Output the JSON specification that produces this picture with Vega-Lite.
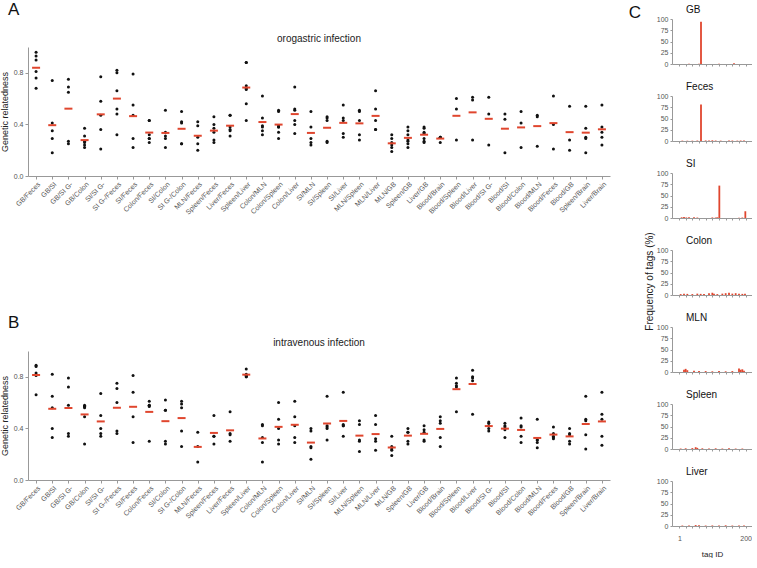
{
"$schema": "https://vega.github.io/schema/vega-lite/v6.json",
"padding": 0,
"background": "white",
"config": {
  "font": "Liberation Sans",
  "view": {"stroke": null},
  "axis": {"grid": false, "domainColor": "#999", "tickColor": "#999", "labelColor": "#555", "labelFontSize": 7, "titleFontWeight": "normal", "titleColor": "#222", "tickSize": 3, "labelPadding": 2},
  "title": {"fontWeight": "normal", "color": "#111"}
},
"datasets": {
"rel": [
{"route":"oro","pair":"GB/Feces","value":0.96},{"route":"oro","pair":"GB/Feces","value":0.93},{"route":"oro","pair":"GB/Feces","value":0.90},{"route":"oro","pair":"GB/Feces","value":0.81},{"route":"oro","pair":"GB/Feces","value":0.76},{"route":"oro","pair":"GB/Feces","value":0.68},
{"route":"oro","pair":"GB/SI","value":0.74},{"route":"oro","pair":"GB/SI","value":0.41},{"route":"oro","pair":"GB/SI","value":0.35},{"route":"oro","pair":"GB/SI","value":0.29},{"route":"oro","pair":"GB/SI","value":0.18},
{"route":"oro","pair":"GB/SI G-","value":0.75},{"route":"oro","pair":"GB/SI G-","value":0.69},{"route":"oro","pair":"GB/SI G-","value":0.65},{"route":"oro","pair":"GB/SI G-","value":0.27},{"route":"oro","pair":"GB/SI G-","value":0.25},
{"route":"oro","pair":"GB/Colon","value":0.37},{"route":"oro","pair":"GB/Colon","value":0.31},{"route":"oro","pair":"GB/Colon","value":0.27},{"route":"oro","pair":"GB/Colon","value":0.26},{"route":"oro","pair":"GB/Colon","value":0.24},{"route":"oro","pair":"GB/Colon","value":0.22},
{"route":"oro","pair":"SI/SI G-","value":0.77},{"route":"oro","pair":"SI/SI G-","value":0.58},{"route":"oro","pair":"SI/SI G-","value":0.47},{"route":"oro","pair":"SI/SI G-","value":0.36},{"route":"oro","pair":"SI/SI G-","value":0.21},
{"route":"oro","pair":"SI G-/Feces","value":0.82},{"route":"oro","pair":"SI G-/Feces","value":0.80},{"route":"oro","pair":"SI G-/Feces","value":0.66},{"route":"oro","pair":"SI G-/Feces","value":0.52},{"route":"oro","pair":"SI G-/Feces","value":0.48},{"route":"oro","pair":"SI G-/Feces","value":0.32},
{"route":"oro","pair":"SI/Feces","value":0.79},{"route":"oro","pair":"SI/Feces","value":0.55},{"route":"oro","pair":"SI/Feces","value":0.47},{"route":"oro","pair":"SI/Feces","value":0.29},{"route":"oro","pair":"SI/Feces","value":0.22},
{"route":"oro","pair":"Colon/Feces","value":0.43},{"route":"oro","pair":"Colon/Feces","value":0.43},{"route":"oro","pair":"Colon/Feces","value":0.32},{"route":"oro","pair":"Colon/Feces","value":0.29},{"route":"oro","pair":"Colon/Feces","value":0.29},{"route":"oro","pair":"Colon/Feces","value":0.26},
{"route":"oro","pair":"SI/Colon","value":0.51},{"route":"oro","pair":"SI/Colon","value":0.34},{"route":"oro","pair":"SI/Colon","value":0.31},{"route":"oro","pair":"SI/Colon","value":0.29},{"route":"oro","pair":"SI/Colon","value":0.22},
{"route":"oro","pair":"SI G-/Colon","value":0.50},{"route":"oro","pair":"SI G-/Colon","value":0.42},{"route":"oro","pair":"SI G-/Colon","value":0.41},{"route":"oro","pair":"SI G-/Colon","value":0.25},{"route":"oro","pair":"SI G-/Colon","value":0.25},
{"route":"oro","pair":"MLN/Feces","value":0.42},{"route":"oro","pair":"MLN/Feces","value":0.39},{"route":"oro","pair":"MLN/Feces","value":0.30},{"route":"oro","pair":"MLN/Feces","value":0.25},{"route":"oro","pair":"MLN/Feces","value":0.20},
{"route":"oro","pair":"Spleen/Feces","value":0.46},{"route":"oro","pair":"Spleen/Feces","value":0.40},{"route":"oro","pair":"Spleen/Feces","value":0.37},{"route":"oro","pair":"Spleen/Feces","value":0.34},{"route":"oro","pair":"Spleen/Feces","value":0.28},{"route":"oro","pair":"Spleen/Feces","value":0.26},
{"route":"oro","pair":"Liver/Feces","value":0.47},{"route":"oro","pair":"Liver/Feces","value":0.47},{"route":"oro","pair":"Liver/Feces","value":0.38},{"route":"oro","pair":"Liver/Feces","value":0.36},{"route":"oro","pair":"Liver/Feces","value":0.35},{"route":"oro","pair":"Liver/Feces","value":0.31},
{"route":"oro","pair":"Spleen/Liver","value":0.88},{"route":"oro","pair":"Spleen/Liver","value":0.88},{"route":"oro","pair":"Spleen/Liver","value":0.70},{"route":"oro","pair":"Spleen/Liver","value":0.68},{"route":"oro","pair":"Spleen/Liver","value":0.67},{"route":"oro","pair":"Spleen/Liver","value":0.56},{"route":"oro","pair":"Spleen/Liver","value":0.43},
{"route":"oro","pair":"Colon/MLN","value":0.62},{"route":"oro","pair":"Colon/MLN","value":0.45},{"route":"oro","pair":"Colon/MLN","value":0.39},{"route":"oro","pair":"Colon/MLN","value":0.38},{"route":"oro","pair":"Colon/MLN","value":0.35},{"route":"oro","pair":"Colon/MLN","value":0.32},
{"route":"oro","pair":"Colon/Spleen","value":0.51},{"route":"oro","pair":"Colon/Spleen","value":0.50},{"route":"oro","pair":"Colon/Spleen","value":0.39},{"route":"oro","pair":"Colon/Spleen","value":0.38},{"route":"oro","pair":"Colon/Spleen","value":0.38},{"route":"oro","pair":"Colon/Spleen","value":0.34},{"route":"oro","pair":"Colon/Spleen","value":0.29},
{"route":"oro","pair":"Colon/Liver","value":0.69},{"route":"oro","pair":"Colon/Liver","value":0.52},{"route":"oro","pair":"Colon/Liver","value":0.51},{"route":"oro","pair":"Colon/Liver","value":0.43},{"route":"oro","pair":"Colon/Liver","value":0.40},{"route":"oro","pair":"Colon/Liver","value":0.33},
{"route":"oro","pair":"SI/MLN","value":0.50},{"route":"oro","pair":"SI/MLN","value":0.38},{"route":"oro","pair":"SI/MLN","value":0.29},{"route":"oro","pair":"SI/MLN","value":0.26},{"route":"oro","pair":"SI/MLN","value":0.24},
{"route":"oro","pair":"SI/Spleen","value":0.46},{"route":"oro","pair":"SI/Spleen","value":0.45},{"route":"oro","pair":"SI/Spleen","value":0.43},{"route":"oro","pair":"SI/Spleen","value":0.27},{"route":"oro","pair":"SI/Spleen","value":0.26},
{"route":"oro","pair":"SI/Liver","value":0.55},{"route":"oro","pair":"SI/Liver","value":0.45},{"route":"oro","pair":"SI/Liver","value":0.43},{"route":"oro","pair":"SI/Liver","value":0.33},{"route":"oro","pair":"SI/Liver","value":0.30},
{"route":"oro","pair":"MLN/Spleen","value":0.51},{"route":"oro","pair":"MLN/Spleen","value":0.50},{"route":"oro","pair":"MLN/Spleen","value":0.43},{"route":"oro","pair":"MLN/Spleen","value":0.32},{"route":"oro","pair":"MLN/Spleen","value":0.28},
{"route":"oro","pair":"MLN/Liver","value":0.66},{"route":"oro","pair":"MLN/Liver","value":0.52},{"route":"oro","pair":"MLN/Liver","value":0.43},{"route":"oro","pair":"MLN/Liver","value":0.36},{"route":"oro","pair":"MLN/Liver","value":0.36},
{"route":"oro","pair":"MLN/GB","value":0.32},{"route":"oro","pair":"MLN/GB","value":0.29},{"route":"oro","pair":"MLN/GB","value":0.26},{"route":"oro","pair":"MLN/GB","value":0.24},{"route":"oro","pair":"MLN/GB","value":0.22},{"route":"oro","pair":"MLN/GB","value":0.19},
{"route":"oro","pair":"Spleen/GB","value":0.38},{"route":"oro","pair":"Spleen/GB","value":0.35},{"route":"oro","pair":"Spleen/GB","value":0.32},{"route":"oro","pair":"Spleen/GB","value":0.28},{"route":"oro","pair":"Spleen/GB","value":0.27},{"route":"oro","pair":"Spleen/GB","value":0.25},{"route":"oro","pair":"Spleen/GB","value":0.22},
{"route":"oro","pair":"Liver/GB","value":0.38},{"route":"oro","pair":"Liver/GB","value":0.37},{"route":"oro","pair":"Liver/GB","value":0.34},{"route":"oro","pair":"Liver/GB","value":0.33},{"route":"oro","pair":"Liver/GB","value":0.29},{"route":"oro","pair":"Liver/GB","value":0.27},{"route":"oro","pair":"Liver/GB","value":0.26},
{"route":"oro","pair":"Blood/Brain","value":0.30},{"route":"oro","pair":"Blood/Brain","value":0.30},{"route":"oro","pair":"Blood/Brain","value":0.30},{"route":"oro","pair":"Blood/Brain","value":0.26},
{"route":"oro","pair":"Blood/Spleen","value":0.60},{"route":"oro","pair":"Blood/Spleen","value":0.52},{"route":"oro","pair":"Blood/Spleen","value":0.28},
{"route":"oro","pair":"Blood/Liver","value":0.61},{"route":"oro","pair":"Blood/Liver","value":0.59},{"route":"oro","pair":"Blood/Liver","value":0.28},
{"route":"oro","pair":"Blood/SI G-","value":0.61},{"route":"oro","pair":"Blood/SI G-","value":0.48},{"route":"oro","pair":"Blood/SI G-","value":0.24},
{"route":"oro","pair":"Blood/SI","value":0.48},{"route":"oro","pair":"Blood/SI","value":0.44},{"route":"oro","pair":"Blood/SI","value":0.18},
{"route":"oro","pair":"Blood/Colon","value":0.50},{"route":"oro","pair":"Blood/Colon","value":0.41},{"route":"oro","pair":"Blood/Colon","value":0.22},
{"route":"oro","pair":"Blood/MLN","value":0.47},{"route":"oro","pair":"Blood/MLN","value":0.46},{"route":"oro","pair":"Blood/MLN","value":0.23},
{"route":"oro","pair":"Blood/Feces","value":0.62},{"route":"oro","pair":"Blood/Feces","value":0.40},{"route":"oro","pair":"Blood/Feces","value":0.21},
{"route":"oro","pair":"Blood/GB","value":0.54},{"route":"oro","pair":"Blood/GB","value":0.28},{"route":"oro","pair":"Blood/GB","value":0.20},
{"route":"oro","pair":"Spleen/Brain","value":0.54},{"route":"oro","pair":"Spleen/Brain","value":0.37},{"route":"oro","pair":"Spleen/Brain","value":0.30},{"route":"oro","pair":"Spleen/Brain","value":0.29},{"route":"oro","pair":"Spleen/Brain","value":0.18},
{"route":"oro","pair":"Liver/Brain","value":0.55},{"route":"oro","pair":"Liver/Brain","value":0.38},{"route":"oro","pair":"Liver/Brain","value":0.34},{"route":"oro","pair":"Liver/Brain","value":0.30},{"route":"oro","pair":"Liver/Brain","value":0.24},
{"route":"iv","pair":"GB/Feces","value":0.89},{"route":"iv","pair":"GB/Feces","value":0.88},{"route":"iv","pair":"GB/Feces","value":0.83},{"route":"iv","pair":"GB/Feces","value":0.81},{"route":"iv","pair":"GB/Feces","value":0.66},
{"route":"iv","pair":"GB/SI","value":0.82},{"route":"iv","pair":"GB/SI","value":0.65},{"route":"iv","pair":"GB/SI","value":0.56},{"route":"iv","pair":"GB/SI","value":0.40},{"route":"iv","pair":"GB/SI","value":0.33},
{"route":"iv","pair":"GB/SI G-","value":0.79},{"route":"iv","pair":"GB/SI G-","value":0.72},{"route":"iv","pair":"GB/SI G-","value":0.58},{"route":"iv","pair":"GB/SI G-","value":0.36},{"route":"iv","pair":"GB/SI G-","value":0.34},
{"route":"iv","pair":"GB/Colon","value":0.58},{"route":"iv","pair":"GB/Colon","value":0.57},{"route":"iv","pair":"GB/Colon","value":0.57},{"route":"iv","pair":"GB/Colon","value":0.56},{"route":"iv","pair":"GB/Colon","value":0.49},{"route":"iv","pair":"GB/Colon","value":0.28},
{"route":"iv","pair":"SI/SI G-","value":0.67},{"route":"iv","pair":"SI/SI G-","value":0.50},{"route":"iv","pair":"SI/SI G-","value":0.40},{"route":"iv","pair":"SI/SI G-","value":0.36},{"route":"iv","pair":"SI/SI G-","value":0.34},
{"route":"iv","pair":"SI G-/Feces","value":0.75},{"route":"iv","pair":"SI G-/Feces","value":0.71},{"route":"iv","pair":"SI G-/Feces","value":0.60},{"route":"iv","pair":"SI G-/Feces","value":0.38},{"route":"iv","pair":"SI G-/Feces","value":0.36},
{"route":"iv","pair":"SI/Feces","value":0.81},{"route":"iv","pair":"SI/Feces","value":0.68},{"route":"iv","pair":"SI/Feces","value":0.49},{"route":"iv","pair":"SI/Feces","value":0.29},
{"route":"iv","pair":"Colon/Feces","value":0.61},{"route":"iv","pair":"Colon/Feces","value":0.58},{"route":"iv","pair":"Colon/Feces","value":0.58},{"route":"iv","pair":"Colon/Feces","value":0.57},{"route":"iv","pair":"Colon/Feces","value":0.30},
{"route":"iv","pair":"SI/Colon","value":0.62},{"route":"iv","pair":"SI/Colon","value":0.54},{"route":"iv","pair":"SI/Colon","value":0.54},{"route":"iv","pair":"SI/Colon","value":0.30},{"route":"iv","pair":"SI/Colon","value":0.28},
{"route":"iv","pair":"SI G-/Colon","value":0.61},{"route":"iv","pair":"SI G-/Colon","value":0.59},{"route":"iv","pair":"SI G-/Colon","value":0.56},{"route":"iv","pair":"SI G-/Colon","value":0.38},{"route":"iv","pair":"SI G-/Colon","value":0.26},
{"route":"iv","pair":"MLN/Feces","value":0.37},{"route":"iv","pair":"MLN/Feces","value":0.26},{"route":"iv","pair":"MLN/Feces","value":0.14},
{"route":"iv","pair":"Spleen/Feces","value":0.50},{"route":"iv","pair":"Spleen/Feces","value":0.34},{"route":"iv","pair":"Spleen/Feces","value":0.34},{"route":"iv","pair":"Spleen/Feces","value":0.28},
{"route":"iv","pair":"Liver/Feces","value":0.53},{"route":"iv","pair":"Liver/Feces","value":0.36},{"route":"iv","pair":"Liver/Feces","value":0.35},{"route":"iv","pair":"Liver/Feces","value":0.30},
{"route":"iv","pair":"Spleen/Liver","value":0.86},{"route":"iv","pair":"Spleen/Liver","value":0.82},{"route":"iv","pair":"Spleen/Liver","value":0.81},{"route":"iv","pair":"Spleen/Liver","value":0.81},{"route":"iv","pair":"Spleen/Liver","value":0.80},{"route":"iv","pair":"Spleen/Liver","value":0.80},
{"route":"iv","pair":"Colon/MLN","value":0.43},{"route":"iv","pair":"Colon/MLN","value":0.42},{"route":"iv","pair":"Colon/MLN","value":0.33},{"route":"iv","pair":"Colon/MLN","value":0.29},{"route":"iv","pair":"Colon/MLN","value":0.14},
{"route":"iv","pair":"Colon/Spleen","value":0.60},{"route":"iv","pair":"Colon/Spleen","value":0.47},{"route":"iv","pair":"Colon/Spleen","value":0.40},{"route":"iv","pair":"Colon/Spleen","value":0.31},{"route":"iv","pair":"Colon/Spleen","value":0.28},
{"route":"iv","pair":"Colon/Liver","value":0.61},{"route":"iv","pair":"Colon/Liver","value":0.49},{"route":"iv","pair":"Colon/Liver","value":0.42},{"route":"iv","pair":"Colon/Liver","value":0.33},{"route":"iv","pair":"Colon/Liver","value":0.29},
{"route":"iv","pair":"SI/MLN","value":0.40},{"route":"iv","pair":"SI/MLN","value":0.38},{"route":"iv","pair":"SI/MLN","value":0.26},{"route":"iv","pair":"SI/MLN","value":0.25},{"route":"iv","pair":"SI/MLN","value":0.16},
{"route":"iv","pair":"SI/Spleen","value":0.65},{"route":"iv","pair":"SI/Spleen","value":0.42},{"route":"iv","pair":"SI/Spleen","value":0.41},{"route":"iv","pair":"SI/Spleen","value":0.40},{"route":"iv","pair":"SI/Spleen","value":0.31},
{"route":"iv","pair":"SI/Liver","value":0.68},{"route":"iv","pair":"SI/Liver","value":0.43},{"route":"iv","pair":"SI/Liver","value":0.42},{"route":"iv","pair":"SI/Liver","value":0.42},{"route":"iv","pair":"SI/Liver","value":0.34},
{"route":"iv","pair":"MLN/Spleen","value":0.46},{"route":"iv","pair":"MLN/Spleen","value":0.43},{"route":"iv","pair":"MLN/Spleen","value":0.31},{"route":"iv","pair":"MLN/Spleen","value":0.30},{"route":"iv","pair":"MLN/Spleen","value":0.22},
{"route":"iv","pair":"MLN/Liver","value":0.50},{"route":"iv","pair":"MLN/Liver","value":0.43},{"route":"iv","pair":"MLN/Liver","value":0.32},{"route":"iv","pair":"MLN/Liver","value":0.30},{"route":"iv","pair":"MLN/Liver","value":0.23},
{"route":"iv","pair":"MLN/GB","value":0.34},{"route":"iv","pair":"MLN/GB","value":0.26},{"route":"iv","pair":"MLN/GB","value":0.24},{"route":"iv","pair":"MLN/GB","value":0.23},{"route":"iv","pair":"MLN/GB","value":0.19},
{"route":"iv","pair":"Spleen/GB","value":0.40},{"route":"iv","pair":"Spleen/GB","value":0.37},{"route":"iv","pair":"Spleen/GB","value":0.37},{"route":"iv","pair":"Spleen/GB","value":0.30},{"route":"iv","pair":"Spleen/GB","value":0.28},
{"route":"iv","pair":"Liver/GB","value":0.42},{"route":"iv","pair":"Liver/GB","value":0.39},{"route":"iv","pair":"Liver/GB","value":0.37},{"route":"iv","pair":"Liver/GB","value":0.31},{"route":"iv","pair":"Liver/GB","value":0.30},
{"route":"iv","pair":"Blood/Brain","value":0.49},{"route":"iv","pair":"Blood/Brain","value":0.46},{"route":"iv","pair":"Blood/Brain","value":0.44},{"route":"iv","pair":"Blood/Brain","value":0.33},{"route":"iv","pair":"Blood/Brain","value":0.26},
{"route":"iv","pair":"Blood/Spleen","value":0.79},{"route":"iv","pair":"Blood/Spleen","value":0.75},{"route":"iv","pair":"Blood/Spleen","value":0.73},{"route":"iv","pair":"Blood/Spleen","value":0.72},{"route":"iv","pair":"Blood/Spleen","value":0.53},
{"route":"iv","pair":"Blood/Liver","value":0.85},{"route":"iv","pair":"Blood/Liver","value":0.80},{"route":"iv","pair":"Blood/Liver","value":0.79},{"route":"iv","pair":"Blood/Liver","value":0.77},{"route":"iv","pair":"Blood/Liver","value":0.51},
{"route":"iv","pair":"Blood/SI G-","value":0.45},{"route":"iv","pair":"Blood/SI G-","value":0.44},{"route":"iv","pair":"Blood/SI G-","value":0.42},{"route":"iv","pair":"Blood/SI G-","value":0.40},{"route":"iv","pair":"Blood/SI G-","value":0.38},
{"route":"iv","pair":"Blood/SI","value":0.44},{"route":"iv","pair":"Blood/SI","value":0.42},{"route":"iv","pair":"Blood/SI","value":0.41},{"route":"iv","pair":"Blood/SI","value":0.39},{"route":"iv","pair":"Blood/SI","value":0.33},
{"route":"iv","pair":"Blood/Colon","value":0.48},{"route":"iv","pair":"Blood/Colon","value":0.42},{"route":"iv","pair":"Blood/Colon","value":0.41},{"route":"iv","pair":"Blood/Colon","value":0.34},{"route":"iv","pair":"Blood/Colon","value":0.29},
{"route":"iv","pair":"Blood/MLN","value":0.47},{"route":"iv","pair":"Blood/MLN","value":0.31},{"route":"iv","pair":"Blood/MLN","value":0.31},{"route":"iv","pair":"Blood/MLN","value":0.29},{"route":"iv","pair":"Blood/MLN","value":0.25},
{"route":"iv","pair":"Blood/Feces","value":0.41},{"route":"iv","pair":"Blood/Feces","value":0.36},{"route":"iv","pair":"Blood/Feces","value":0.34},{"route":"iv","pair":"Blood/Feces","value":0.33},{"route":"iv","pair":"Blood/Feces","value":0.32},
{"route":"iv","pair":"Blood/GB","value":0.40},{"route":"iv","pair":"Blood/GB","value":0.36},{"route":"iv","pair":"Blood/GB","value":0.35},{"route":"iv","pair":"Blood/GB","value":0.30},{"route":"iv","pair":"Blood/GB","value":0.28},
{"route":"iv","pair":"Spleen/Brain","value":0.65},{"route":"iv","pair":"Spleen/Brain","value":0.47},{"route":"iv","pair":"Spleen/Brain","value":0.46},{"route":"iv","pair":"Spleen/Brain","value":0.35},{"route":"iv","pair":"Spleen/Brain","value":0.24},
{"route":"iv","pair":"Liver/Brain","value":0.68},{"route":"iv","pair":"Liver/Brain","value":0.51},{"route":"iv","pair":"Liver/Brain","value":0.47},{"route":"iv","pair":"Liver/Brain","value":0.34},{"route":"iv","pair":"Liver/Brain","value":0.27}
],
"tags": [
{"organ":"GB","tag":66,"freq":94},{"organ":"GB","tag":60,"freq":0.8},{"organ":"GB","tag":165,"freq":1.5},{"organ":"GB","tag":30,"freq":0.4},{"organ":"GB","tag":120,"freq":0.4},
{"organ":"Feces","tag":66,"freq":81},{"organ":"Feces","tag":10,"freq":0.8},{"organ":"Feces","tag":25,"freq":0.6},{"organ":"Feces","tag":40,"freq":0.7},{"organ":"Feces","tag":55,"freq":1.0},{"organ":"Feces","tag":80,"freq":1.2},{"organ":"Feces","tag":90,"freq":0.9},{"organ":"Feces","tag":100,"freq":1.5},{"organ":"Feces","tag":110,"freq":1.0},{"organ":"Feces","tag":125,"freq":0.8},{"organ":"Feces","tag":150,"freq":1.2},{"organ":"Feces","tag":160,"freq":1.0},{"organ":"Feces","tag":175,"freq":0.8},{"organ":"Feces","tag":185,"freq":1.0},{"organ":"Feces","tag":195,"freq":0.9},
{"organ":"SI","tag":121,"freq":72},{"organ":"SI","tag":199,"freq":15},{"organ":"SI","tag":8,"freq":1.5},{"organ":"SI","tag":15,"freq":2.0},{"organ":"SI","tag":22,"freq":1.2},{"organ":"SI","tag":30,"freq":1.8},{"organ":"SI","tag":45,"freq":1.5},{"organ":"SI","tag":55,"freq":1.0},{"organ":"SI","tag":100,"freq":1.2},{"organ":"SI","tag":110,"freq":1.0},{"organ":"SI","tag":115,"freq":1.5},{"organ":"SI","tag":180,"freq":0.5},{"organ":"SI","tag":190,"freq":1.0},
{"organ":"Colon","tag":5,"freq":2},{"organ":"Colon","tag":15,"freq":3},{"organ":"Colon","tag":25,"freq":2.5},{"organ":"Colon","tag":40,"freq":2},{"organ":"Colon","tag":55,"freq":3},{"organ":"Colon","tag":65,"freq":2.5},{"organ":"Colon","tag":75,"freq":2},{"organ":"Colon","tag":90,"freq":4},{"organ":"Colon","tag":100,"freq":5},{"organ":"Colon","tag":105,"freq":3},{"organ":"Colon","tag":115,"freq":2},{"organ":"Colon","tag":130,"freq":3},{"organ":"Colon","tag":140,"freq":4},{"organ":"Colon","tag":150,"freq":5},{"organ":"Colon","tag":160,"freq":3},{"organ":"Colon","tag":170,"freq":4},{"organ":"Colon","tag":180,"freq":3},{"organ":"Colon","tag":190,"freq":2.5},{"organ":"Colon","tag":198,"freq":3},
{"organ":"MLN","tag":15,"freq":5},{"organ":"MLN","tag":20,"freq":7},{"organ":"MLN","tag":25,"freq":4},{"organ":"MLN","tag":45,"freq":3},{"organ":"MLN","tag":60,"freq":2},{"organ":"MLN","tag":80,"freq":2},{"organ":"MLN","tag":100,"freq":1.5},{"organ":"MLN","tag":120,"freq":2},{"organ":"MLN","tag":140,"freq":1.5},{"organ":"MLN","tag":160,"freq":2},{"organ":"MLN","tag":180,"freq":8},{"organ":"MLN","tag":185,"freq":5},{"organ":"MLN","tag":190,"freq":6},{"organ":"MLN","tag":195,"freq":3},
{"organ":"Spleen","tag":5,"freq":1},{"organ":"Spleen","tag":20,"freq":1.5},{"organ":"Spleen","tag":40,"freq":2},{"organ":"Spleen","tag":50,"freq":4},{"organ":"Spleen","tag":55,"freq":2.5},{"organ":"Spleen","tag":70,"freq":1.5},{"organ":"Spleen","tag":90,"freq":1},{"organ":"Spleen","tag":110,"freq":1.5},{"organ":"Spleen","tag":130,"freq":1},{"organ":"Spleen","tag":150,"freq":1.5},{"organ":"Spleen","tag":170,"freq":1},{"organ":"Spleen","tag":190,"freq":1},
{"organ":"Liver","tag":10,"freq":1},{"organ":"Liver","tag":30,"freq":1},{"organ":"Liver","tag":50,"freq":2},{"organ":"Liver","tag":60,"freq":1.5},{"organ":"Liver","tag":80,"freq":1},{"organ":"Liver","tag":100,"freq":1.2},{"organ":"Liver","tag":120,"freq":1},{"organ":"Liver","tag":140,"freq":1.5},{"organ":"Liver","tag":160,"freq":1},{"organ":"Liver","tag":180,"freq":1.2},{"organ":"Liver","tag":195,"freq":1}
]
},
"hconcat": [
 {"vconcat": [
   {"vconcat": [
     {"data": {"values": [{}]}, "width": 582, "height": 1,
      "title": {"text": "A", "anchor": "start", "frame": "group", "fontSize": 17, "dx": -20, "offset": 0},
      "mark": {"type": "rule", "opacity": 0}, "encoding": {}},
     {"data": {"name": "rel"}, "transform": [{"filter": "datum.route == 'oro'"}],
      "width": 582, "height": 129,
      "title": {"text": "orogastric infection", "fontSize": 10, "offset": 3, "color": "#222"},
      "encoding": {"x": {"field": "pair", "type": "nominal",
         "sort": ["GB/Feces","GB/SI","GB/SI G-","GB/Colon","SI/SI G-","SI G-/Feces","SI/Feces","Colon/Feces","SI/Colon","SI G-/Colon","MLN/Feces","Spleen/Feces","Liver/Feces","Spleen/Liver","Colon/MLN","Colon/Spleen","Colon/Liver","SI/MLN","SI/Spleen","SI/Liver","MLN/Spleen","MLN/Liver","MLN/GB","Spleen/GB","Liver/GB","Blood/Brain","Blood/Spleen","Blood/Liver","Blood/SI G-","Blood/SI","Blood/Colon","Blood/MLN","Blood/Feces","Blood/GB","Spleen/Brain","Liver/Brain"],
         "scale": {"type": "point", "padding": 0.5},
         "axis": {"title": null, "labelAngle": -45, "labelAlign": "right", "labelBaseline": "top", "labelPadding": 1}}},
      "layer": [
       {"mark": {"type": "circle", "size": 9, "color": "#111", "opacity": 1},
        "encoding": {"y": {"field": "value", "type": "quantitative", "scale": {"domain": [0, 1], "nice": false},
          "axis": {"title": "Genetic relatedness", "titleFontSize": 9, "format": ".1f", "values": [0, 0.2, 0.4, 0.6, 0.8, 1], "titlePadding": 4}}}},
       {"mark": {"type": "tick", "color": "#e0462e", "size": 8, "thickness": 2},
        "encoding": {"y": {"aggregate": "mean", "field": "value", "type": "quantitative"}}}
      ]}
    ], "spacing": 14},
   {"vconcat": [
     {"data": {"values": [{}]}, "width": 582, "height": 1,
      "title": {"text": "B", "anchor": "start", "frame": "group", "fontSize": 17, "dx": -20, "offset": 0},
      "mark": {"type": "rule", "opacity": 0}, "encoding": {}},
     {"data": {"name": "rel"}, "transform": [{"filter": "datum.route == 'iv'"}],
      "width": 582, "height": 129,
      "title": {"text": "intravenous infection", "fontSize": 10, "offset": 3, "color": "#222"},
      "encoding": {"x": {"field": "pair", "type": "nominal",
         "sort": ["GB/Feces","GB/SI","GB/SI G-","GB/Colon","SI/SI G-","SI G-/Feces","SI/Feces","Colon/Feces","SI/Colon","SI G-/Colon","MLN/Feces","Spleen/Feces","Liver/Feces","Spleen/Liver","Colon/MLN","Colon/Spleen","Colon/Liver","SI/MLN","SI/Spleen","SI/Liver","MLN/Spleen","MLN/Liver","MLN/GB","Spleen/GB","Liver/GB","Blood/Brain","Blood/Spleen","Blood/Liver","Blood/SI G-","Blood/SI","Blood/Colon","Blood/MLN","Blood/Feces","Blood/GB","Spleen/Brain","Liver/Brain"],
         "scale": {"type": "point", "padding": 0.5},
         "axis": {"title": null, "labelAngle": -45, "labelAlign": "right", "labelBaseline": "top", "labelPadding": 1}}},
      "layer": [
       {"mark": {"type": "circle", "size": 9, "color": "#111", "opacity": 1},
        "encoding": {"y": {"field": "value", "type": "quantitative", "scale": {"domain": [0, 1], "nice": false},
          "axis": {"title": "Genetic relatedness", "titleFontSize": 9, "format": ".1f", "values": [0, 0.2, 0.4, 0.6, 0.8, 1], "titlePadding": 4}}}},
       {"mark": {"type": "tick", "color": "#e0462e", "size": 8, "thickness": 2},
        "encoding": {"y": {"aggregate": "mean", "field": "value", "type": "quantitative"}}}
      ]}
    ], "spacing": 5}
  ], "spacing": 97},
 {"title": {"text": "C", "orient": "left", "anchor": "end", "angle": 0, "fontSize": 17, "offset": -8},
  "vconcat": [
  {"title": {"text": "Frequency of tags (%)", "orient": "left", "anchor": "middle", "fontSize": 10, "offset": 1, "color": "#222"},
  "vconcat": [
   {"data": {"name": "tags"}, "transform": [{"filter": "datum.organ == 'GB'"}], "width": 80, "height": 45,
    "title": {"text": "GB", "anchor": "start", "frame": "group", "fontSize": 10, "dx": 14, "offset": 0},
    "mark": {"type": "bar", "color": "#e0462e", "size": 1.8},
    "encoding": {"x": {"field": "tag", "type": "quantitative", "scale": {"domain": [-6, 204], "nice": false}, "axis": {"title": null, "values": [1,20,40,60,80,100,120,140,160,180,200], "labels": false, "tickSize": 2}},
      "y": {"field": "freq", "type": "quantitative", "scale": {"domain": [0, 100], "nice": false}, "axis": {"title": null, "values": [0,25,50,75,100], "tickSize": 2}}}},
   {"data": {"name": "tags"}, "transform": [{"filter": "datum.organ == 'Feces'"}], "width": 80, "height": 45,
    "title": {"text": "Feces", "anchor": "start", "frame": "group", "fontSize": 10, "dx": 14, "offset": 0},
    "mark": {"type": "bar", "color": "#e0462e", "size": 1.8},
    "encoding": {"x": {"field": "tag", "type": "quantitative", "scale": {"domain": [-6, 204], "nice": false}, "axis": {"title": null, "values": [1,20,40,60,80,100,120,140,160,180,200], "labels": false, "tickSize": 2}},
      "y": {"field": "freq", "type": "quantitative", "scale": {"domain": [0, 100], "nice": false}, "axis": {"title": null, "values": [0,25,50,75,100], "tickSize": 2}}}},
   {"data": {"name": "tags"}, "transform": [{"filter": "datum.organ == 'SI'"}], "width": 80, "height": 45,
    "title": {"text": "SI", "anchor": "start", "frame": "group", "fontSize": 10, "dx": 14, "offset": 0},
    "mark": {"type": "bar", "color": "#e0462e", "size": 1.8},
    "encoding": {"x": {"field": "tag", "type": "quantitative", "scale": {"domain": [-6, 204], "nice": false}, "axis": {"title": null, "values": [1,20,40,60,80,100,120,140,160,180,200], "labels": false, "tickSize": 2}},
      "y": {"field": "freq", "type": "quantitative", "scale": {"domain": [0, 100], "nice": false}, "axis": {"title": null, "values": [0,25,50,75,100], "tickSize": 2}}}},
   {"data": {"name": "tags"}, "transform": [{"filter": "datum.organ == 'Colon'"}], "width": 80, "height": 45,
    "title": {"text": "Colon", "anchor": "start", "frame": "group", "fontSize": 10, "dx": 14, "offset": 0},
    "mark": {"type": "bar", "color": "#e0462e", "size": 1.8},
    "encoding": {"x": {"field": "tag", "type": "quantitative", "scale": {"domain": [-6, 204], "nice": false}, "axis": {"title": null, "values": [1,20,40,60,80,100,120,140,160,180,200], "labels": false, "tickSize": 2}},
      "y": {"field": "freq", "type": "quantitative", "scale": {"domain": [0, 100], "nice": false}, "axis": {"title": null, "values": [0,25,50,75,100], "tickSize": 2}}}},
   {"data": {"name": "tags"}, "transform": [{"filter": "datum.organ == 'MLN'"}], "width": 80, "height": 45,
    "title": {"text": "MLN", "anchor": "start", "frame": "group", "fontSize": 10, "dx": 14, "offset": 0},
    "mark": {"type": "bar", "color": "#e0462e", "size": 1.8},
    "encoding": {"x": {"field": "tag", "type": "quantitative", "scale": {"domain": [-6, 204], "nice": false}, "axis": {"title": null, "values": [1,20,40,60,80,100,120,140,160,180,200], "labels": false, "tickSize": 2}},
      "y": {"field": "freq", "type": "quantitative", "scale": {"domain": [0, 100], "nice": false}, "axis": {"title": null, "values": [0,25,50,75,100], "tickSize": 2}}}},
   {"data": {"name": "tags"}, "transform": [{"filter": "datum.organ == 'Spleen'"}], "width": 80, "height": 45,
    "title": {"text": "Spleen", "anchor": "start", "frame": "group", "fontSize": 10, "dx": 14, "offset": 0},
    "mark": {"type": "bar", "color": "#e0462e", "size": 1.8},
    "encoding": {"x": {"field": "tag", "type": "quantitative", "scale": {"domain": [-6, 204], "nice": false}, "axis": {"title": null, "values": [1,20,40,60,80,100,120,140,160,180,200], "labels": false, "tickSize": 2}},
      "y": {"field": "freq", "type": "quantitative", "scale": {"domain": [0, 100], "nice": false}, "axis": {"title": null, "values": [0,25,50,75,100], "tickSize": 2}}}},
   {"data": {"name": "tags"}, "transform": [{"filter": "datum.organ == 'Liver'"}], "width": 80, "height": 45,
    "title": {"text": "Liver", "anchor": "start", "frame": "group", "fontSize": 10, "dx": 14, "offset": 0},
    "mark": {"type": "bar", "color": "#e0462e", "size": 1.8},
    "encoding": {"x": {"field": "tag", "type": "quantitative", "scale": {"domain": [-6, 204], "nice": false}, "axis": {"title": "tag ID", "titleFontSize": 8, "titlePadding": 9, "values": [1,20,40,60,80,100,120,140,160,180,200], "labelExpr": "datum.value == 1 || datum.value == 200 ? datum.label : ''", "labelFlush": true, "labelPadding": 6, "tickSize": 2}},
      "y": {"field": "freq", "type": "quantitative", "scale": {"domain": [0, 100], "nice": false}, "axis": {"title": null, "values": [0,25,50,75,100], "tickSize": 2}}}}
  ], "spacing": 15}
  ]}
],
"spacing": 18
}
